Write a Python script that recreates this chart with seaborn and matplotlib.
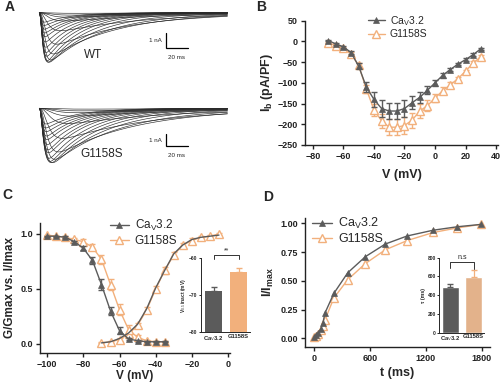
import numpy as np
import pandas as pd
import matplotlib
matplotlib.use("Agg")
import matplotlib.pyplot as plt
import seaborn as sns

sns.set_style("ticks")
plt.rcParams['font.family'] = ['Liberation Sans', 'DejaVu Sans']
plt.rcParams['mathtext.fontset'] = 'custom'
plt.rcParams['mathtext.rm'] = 'Liberation Sans'
plt.rcParams['mathtext.it'] = 'Liberation Sans'
plt.rcParams['mathtext.bf'] = 'Liberation Sans:bold'

DARK = "#5b5b5b"
ORANGE = "#f2b07c"

# ---------------- data ----------------
# Panel A: sweeps (-70 .. +25 mV), peak amplitude (nA), activation / inactivation time constants (ms)
sweep_v = list(range(-70, 30, 5))
wt_amp = [0.04, 0.16, 0.30, 0.55, 1.20, 2.10, 2.75, 3.15, 3.30, 3.30, 3.20, 2.90, 2.65, 2.30, 1.95, 1.60, 1.35, 1.10, 0.85, 0.63]
wt_tm = [9, 8, 7, 6, 5, 4, 3.2, 2.6, 2.2, 2.0, 1.8, 1.7, 1.6, 1.5, 1.4, 1.3, 1.2, 1.2, 1.1, 1.1]
wt_th = [110, 100, 95, 90, 80, 70, 60, 50, 42, 36, 32, 30, 28, 27, 26, 25, 25, 24, 24, 24]
mut_amp = [0.07, 0.22, 0.38, 0.67, 1.30, 2.57, 3.73, 4.36, 4.65, 4.65, 4.54, 4.27, 3.80, 3.55, 3.10, 2.68, 2.37, 2.00, 1.68, 1.34]
mut_tm = [12, 11, 10, 8.5, 7, 5.5, 4.5, 3.6, 3.1, 2.8, 2.5, 2.3, 2.2, 2.0, 1.9, 1.8, 1.7, 1.6, 1.5, 1.5]
mut_th = [130, 120, 110, 100, 95, 85, 72, 60, 50, 44, 40, 37, 35, 33, 32, 31, 30, 30, 29, 29]
sweep_len_ms = 171

# Panel B: I-V
iv_v = list(range(-70, 35, 5))
iv_wt = [2, -6, -13, -27, -60, -110, -140, -162, -168, -168, -162, -148, -135, -118, -100, -82, -68, -55, -44, -32, -18]
iv_wt_err = [1, 2, 3, 4, 7, 12, 18, 20, 20, 20, 20, 16, 14, 10, 8, 6, 4, 3, 3, 3, 3]
iv_mut = [-3, -10, -17, -30, -58, -115, -165, -192, -207, -207, -203, -190, -168, -155, -137, -119, -105, -90, -72, -52, -37]
iv_mut_err = [2, 2, 3, 4, 6, 10, 14, 18, 20, 20, 20, 18, 16, 14, 10, 8, 6, 5, 4, 4, 4]

# Panel C: activation / steady-state inactivation
act_v = list(range(-70, 0, 5))
act_wt = [0.01, 0.02, 0.05, 0.10, 0.18, 0.32, 0.51, 0.67, 0.82, 0.90, 0.95, 0.97, 0.98, 0.99]
act_mut = [0.01, 0.02, 0.04, 0.09, 0.17, 0.31, 0.50, 0.67, 0.81, 0.90, 0.94, 0.97, 0.98, 1.00]
act_err = [0.005, 0.01, 0.01, 0.015, 0.02, 0.03, 0.03, 0.03, 0.03, 0.02, 0.02, 0.01, 0.01, 0.01]
inact_v = list(range(-100, -30, 5))
inact_wt = [0.98, 0.98, 0.97, 0.93, 0.87, 0.76, 0.54, 0.30, 0.12, 0.045, 0.03, 0.02, 0.02, 0.02]
inact_wt_err = [0.005, 0.005, 0.01, 0.01, 0.02, 0.03, 0.05, 0.04, 0.03, 0.01, 0.01, 0.005, 0.005, 0.005]
inact_mut = [0.99, 0.98, 0.97, 0.95, 0.93, 0.88, 0.77, 0.54, 0.31, 0.13, 0.06, 0.03, 0.02, 0.02]
inact_mut_err = [0.005, 0.005, 0.01, 0.01, 0.02, 0.03, 0.04, 0.05, 0.05, 0.04, 0.02, 0.01, 0.005, 0.005]
groups = ["Ca$_V$3.2", "G1158S"]
vinact_mean = [-68.8, -63.8]
vinact_err = [1.1, 1.1]

# Panel D: recovery from inactivation
rec_t = [0, 20, 45, 70, 92, 115, 210, 360, 550, 765, 1000, 1280, 1540, 1790]
rec_wt = [0.01, 0.03, 0.05, 0.08, 0.13, 0.22, 0.39, 0.57, 0.71, 0.82, 0.89, 0.94, 0.97, 0.99]
rec_mut = [0.01, 0.02, 0.04, 0.07, 0.11, 0.16, 0.35, 0.51, 0.65, 0.77, 0.85, 0.92, 0.96, 0.99]
tau_mean = [490, 598]
tau_err = [30, 70]

# ---------------- figure ----------------
W, H = 500, 383
fig = plt.figure(figsize=(W / 100, H / 100), dpi=100)


def rect(x0, y0, x1, y1):
    return [x0 / W, 1 - y1 / H, (x1 - x0) / W, (y1 - y0) / H]


TICK_FS = 6.5
LAB_FS = 9


def style_axes(ax):
    sns.despine(ax=ax)
    for s in ("left", "bottom"):
        ax.spines[s].set_linewidth(1.0)
        ax.spines[s].set_color("#222222")
    ax.tick_params(direction="out", length=3, width=1, labelsize=TICK_FS, pad=2, colors="#222222")
    for lab in ax.get_xticklabels() + ax.get_yticklabels():
        lab.set_fontweight("bold")


# ---------- Panel A ----------
t = np.linspace(0, sweep_len_ms, 700)


def sweeps_frame(amps, tms, ths):
    rows = []
    for i, (a, tm, th) in enumerate(zip(amps, tms, ths)):
        g = (1 - np.exp(-t / tm)) ** 3 * np.exp(-t / th)
        g = g / g.max()
        rows.append(pd.DataFrame({"t": t, "I": -a * g, "sweep": sweep_v[i]}))
    return pd.concat(rows, ignore_index=True)


def trace_panel(y0, y1, base_px, px_per_nA, amps, tms, ths, label, bar_top_px, label_y_px, lbl_x_px):
    ax = fig.add_axes(rect(30, y0, 235, y1))
    ms_px = 1.1
    x0_px = 39.3
    ax.set_xlim((30 - x0_px) / ms_px, (235 - x0_px) / ms_px)
    ax.set_ylim(-(y1 - base_px) / px_per_nA, (base_px - y0) / px_per_nA)
    df = sweeps_frame(amps, tms, ths)
    sns.lineplot(data=df, x="t", y="I", units="sweep", estimator=None, color="#2a2a2a",
                 lw=0.45, ax=ax, legend=False)
    ax.axis("off")
    bx = (165.7 - x0_px) / ms_px
    ytop = -(bar_top_px - base_px) / px_per_nA
    ax.plot([bx, bx, bx + 20], [ytop, ytop - 1, ytop - 1], color="k", lw=0.9, solid_joinstyle="miter")
    ax.text(bx - 4, ytop - 0.5, "1 nA", fontsize=4.5, ha="right", va="center")
    ax.text(bx + 10, ytop - 1 - 9 / px_per_nA, "20 ms", fontsize=4.5, ha="center", va="center")
    ax.text((lbl_x_px - x0_px) / ms_px, -(label_y_px - base_px) / px_per_nA, label,
            fontsize=8.5, ha="center", va="center")


trace_panel(0, 75, 12.7, 15.0, wt_amp, wt_tm, wt_th, "WT", 33.3, 55, 93)
trace_panel(95, 178, 108.3, 11.7, mut_amp, mut_tm, mut_th, "G1158S", 134.3, 154, 102)

# ---------- Panel B ----------
axB = fig.add_axes(rect(305, 20.7, 498, 145))
sns.lineplot(x=iv_v, y=iv_mut, ax=axB, color=ORANGE, lw=1.0, marker="^", markersize=5.5,
             markerfacecolor="white", markeredgecolor=ORANGE, markeredgewidth=1.0, label="G1158S", zorder=2)
axB.errorbar(iv_v, iv_mut, yerr=iv_mut_err, fmt="none", ecolor=ORANGE, elinewidth=1, capsize=2.2, zorder=1)
sns.lineplot(x=iv_v, y=iv_wt, ax=axB, color=DARK, lw=1.0, marker="^", markersize=5,
             markeredgecolor=DARK, markeredgewidth=0.5, label="Ca$_V$3.2", zorder=4)
axB.errorbar(iv_v, iv_wt, yerr=iv_wt_err, fmt="none", ecolor=DARK, elinewidth=1, capsize=2.2, zorder=3)
axB.set_xlim(-85.2, 41.3)
axB.set_ylim(-250, 50)
axB.set_xticks(range(-80, 41, 20))
axB.set_yticks(range(-250, 51, 50))
axB.set_xlabel("V (mV)", fontsize=LAB_FS, fontweight="bold", labelpad=6)
axB.set_ylabel("I$_\\mathbf{b}$ (pA/PF)", fontsize=LAB_FS, fontweight="bold", labelpad=2)
style_axes(axB)
h, l = axB.get_legend_handles_labels()
axB.legend(h[::-1], l[::-1], loc="upper left", bbox_to_anchor=(368 / W, 1 - 14 / H),
           bbox_transform=fig.transFigure, frameon=False, fontsize=7.5, handlelength=1.6,
           handletextpad=0.5, labelspacing=0.15, borderpad=0, borderaxespad=0)
for c in axB.get_children():
    if hasattr(c, "set_clip_on"):
        c.set_clip_on(False)

# ---------- Panel C ----------
axC = fig.add_axes(rect(40, 223, 230, 353))
sns.lineplot(x=act_v, y=act_mut, ax=axC, color=ORANGE, lw=1.0, marker="^", markersize=5.5,
             markerfacecolor="white", markeredgecolor=ORANGE, markeredgewidth=1.0, zorder=2)
sns.lineplot(x=inact_v, y=inact_mut, ax=axC, color=ORANGE, lw=1.0, marker="^", markersize=5.5,
             markerfacecolor="white", markeredgecolor=ORANGE, markeredgewidth=1.0, label="G1158S", zorder=2)
axC.errorbar(act_v, act_mut, yerr=act_err, fmt="none", ecolor=ORANGE, elinewidth=1, capsize=2, zorder=1)
axC.errorbar(inact_v, inact_mut, yerr=inact_mut_err, fmt="none", ecolor=ORANGE, elinewidth=1, capsize=2, zorder=1)
sns.lineplot(x=act_v, y=act_wt, ax=axC, color=DARK, lw=1.0, zorder=3)
sns.lineplot(x=inact_v, y=inact_wt, ax=axC, color=DARK, lw=1.0, marker="^", markersize=5,
             markeredgecolor=DARK, markeredgewidth=0.5, label="Ca$_V$3.2", zorder=4)
axC.errorbar(inact_v, inact_wt, yerr=inact_wt_err, fmt="none", ecolor=DARK, elinewidth=1, capsize=2, zorder=3)
axC.set_xlim(-104, 1.1)
axC.set_ylim(-0.082, 1.1)
axC.set_xticks(range(-100, 1, 20))
axC.set_yticks([0.0, 0.5, 1.0])
axC.set_yticklabels(["0.0", "0.5", "1.0"])
axC.set_xlabel("V (mV)", fontsize=8.5, fontweight="bold", labelpad=1)
axC.set_ylabel("G/Gmax vs. I/Imax", fontsize=8.5, fontweight="bold", labelpad=3)
style_axes(axC)
h, l = axC.get_legend_handles_labels()
axC.legend(h[::-1], l[::-1], loc="upper left", bbox_to_anchor=(110 / W, 1 - 218 / H),
           bbox_transform=fig.transFigure, frameon=False, fontsize=8.5, handlelength=1.6,
           handletextpad=0.5, labelspacing=0.15, borderpad=0, borderaxespad=0)


def inset_errs(ax, means, errs):
    for i, (m, e, c) in enumerate(zip(means, errs, [DARK, ORANGE])):
        ax.errorbar([i], [m], yerr=[[0], [e]], fmt="none", ecolor=c, elinewidth=0.9, capsize=2)


# inset C
axCi = fig.add_axes(rect(201, 258.3, 250, 332.3))
axCi.bar([0, 1], [m - (-80) for m in vinact_mean], bottom=-80, width=0.67,
         color=[DARK, ORANGE], edgecolor="none")
inset_errs(axCi, vinact_mean, vinact_err)
axCi.set_xlim(-0.5, 1.45)
axCi.set_ylim(-80, -60)
axCi.set_yticks([-80, -70, -60])
axCi.set_xticks([0, 1])
axCi.set_xticklabels(groups)
axCi.set_ylabel("V$_{0.5}$ inact (mV)", fontsize=3.5, fontweight="bold", labelpad=1)
sns.despine(ax=axCi)
axCi.tick_params(length=1.5, width=0.7, labelsize=3.5, pad=1)
axCi.tick_params(axis="x", labelsize=4.2, length=0)
for lab in axCi.get_xticklabels() + axCi.get_yticklabels():
    lab.set_fontweight("bold")
for s in ("left", "bottom"):
    axCi.spines[s].set_linewidth(0.7)
axCi.plot([0, 0, 1, 1], [-60.2, -59.0, -59.0, -60.2], color="#333333", lw=0.7, clip_on=False)
axCi.text(0.5, -58.9, "**", fontsize=5, ha="center", va="bottom")

# ---------- Panel D ----------
axD = fig.add_axes(rect(305, 218, 490, 347))
sns.lineplot(x=rec_t, y=rec_mut, ax=axD, color=ORANGE, lw=1.0, marker="^", markersize=5.5,
             markerfacecolor="white", markeredgecolor=ORANGE, markeredgewidth=1.0, label="G1158S", zorder=2)
sns.lineplot(x=rec_t, y=rec_wt, ax=axD, color=DARK, lw=1.0, marker="^", markersize=5,
             markeredgecolor=DARK, markeredgewidth=0.5, label="Ca$_V$3.2", zorder=3)
axD.set_xlim(-100, 1890)
axD.set_ylim(-0.076, 1.046)
axD.set_xticks([0, 600, 1200, 1800])
axD.set_yticks([0, 0.25, 0.5, 0.75, 1.0])
axD.set_yticklabels(["0.00", "0.25", "0.50", "0.75", "1.00"])
axD.set_xlabel("t (ms)", fontsize=LAB_FS, fontweight="bold", labelpad=3)
axD.set_ylabel("I/I$_{\\mathbf{max}}$", fontsize=LAB_FS, fontweight="bold", labelpad=3)
style_axes(axD)
h, l = axD.get_legend_handles_labels()
axD.legend(h[::-1], l[::-1], loc="upper left", bbox_to_anchor=(312 / W, 1 - 216 / H),
           bbox_transform=fig.transFigure, frameon=False, fontsize=9, handlelength=1.6,
           handletextpad=0.5, labelspacing=0.15, borderpad=0, borderaxespad=0)
for c in axD.get_children():
    if hasattr(c, "set_clip_on"):
        c.set_clip_on(False)

# inset D
axDi = fig.add_axes(rect(439.3, 257.7, 484, 332.7))
sns.barplot(x=groups, y=tau_mean, hue=groups, palette=[DARK, ORANGE], width=0.74,
            ax=axDi, legend=False, errorbar=None)
inset_errs(axDi, tau_mean, tau_err)
axDi.set_xlim(-0.47, 1.45)
axDi.set_ylim(0, 800)
axDi.set_yticks([0, 200, 400, 600, 800])
axDi.set_ylabel("τ (ms)", fontsize=3.8, fontweight="bold", labelpad=1)
axDi.set_xlabel("")
sns.despine(ax=axDi)
axDi.tick_params(length=1.5, width=0.7, labelsize=3.5, pad=1)
axDi.tick_params(axis="x", labelsize=4.2, length=0)
for lab in axDi.get_xticklabels() + axDi.get_yticklabels():
    lab.set_fontweight("bold")
for s in ("left", "bottom"):
    axDi.spines[s].set_linewidth(0.7)
axDi.plot([0, 0, 1, 1], [690, 758, 758, 680], color="#333333", lw=0.7, clip_on=False)
axDi.text(0.5, 765, "n.s", fontsize=5, ha="center", va="bottom")

# panel letters
for letter, x, y in [("A", 10, 7), ("B", 261, 7), ("C", 7, 195), ("D", 268, 197)]:
    fig.text(x / W, 1 - y / H, letter, fontsize=10, fontweight="bold", ha="center", va="center")

fig.savefig("out.png", dpi=100)
